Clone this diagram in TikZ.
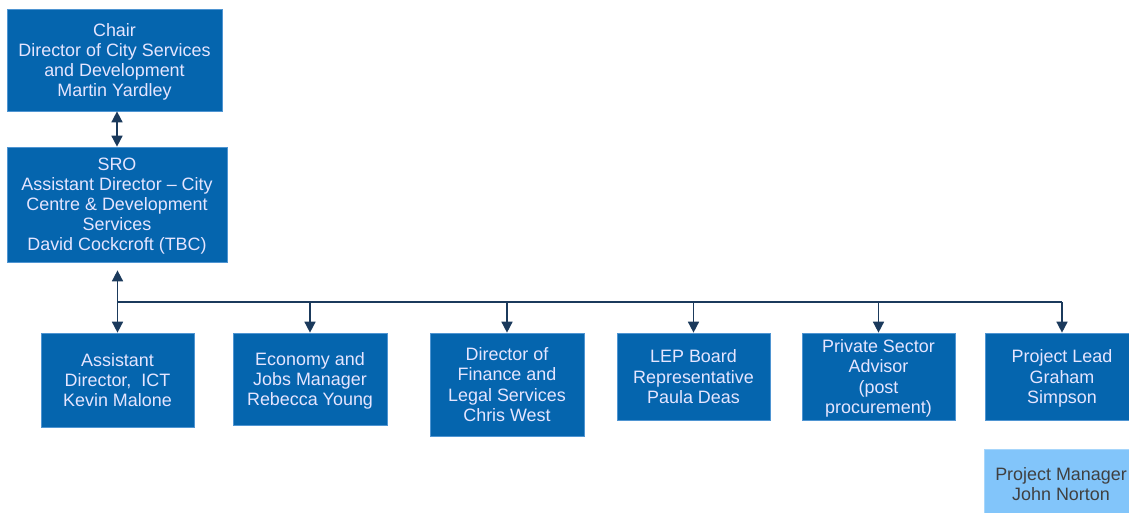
\documentclass[tikz,border=0pt]{standalone}
\usepackage{fontspec}
\setmainfont{Liberation Sans}
\usetikzlibrary{arrows.meta,positioning,calc}
\definecolor{boxblue}{HTML}{0565AE}
\definecolor{lightbox}{HTML}{82C5FA}
\definecolor{linknavy}{HTML}{1B3A5C}
\definecolor{boxedge}{HTML}{4F95D2}
\tikzset{
  role/.style   ={draw=boxedge,fill=boxblue,text=white!90!blue,align=center,inner sep=0pt,
                  text depth=0pt,font=\fontsize{10.2}{11.4}\selectfont},
  sub/.style    ={role,fill=lightbox,draw=lightbox!70!white,text=black!75},
  link/.style   ={-{Triangle[length=2.2mm,width=2.2mm]},line width=0.9pt,draw=linknavy},
  both/.style   ={link,{Triangle[length=2.2mm,width=2.2mm]}-{Triangle[length=2.2mm,width=2.2mm]}},
  bus/.style    ={line width=1.2pt,draw=linknavy},
}
\begin{document}
\begin{tikzpicture}[x=0.02cm,y=-0.02cm]
  \useasboundingbox (0,0) rectangle (1129,512);
  % board chair and SRO
  \node[role,minimum width=4.3cm,minimum height=2.04cm] (chair) at (114.5,60)
    {Chair\\Director of City Services\\and Development\\Martin Yardley};
  \node[role,minimum width=4.4cm,minimum height=2.3cm] (sro) at (117,204.5)
    {SRO\\Assistant Director -- City\\Centre \& Development\\Services\\David Cockcroft (TBC)};
  \draw[both] (chair.south -| sro.north) -- (sro.north);
  % board members
  \node[role,minimum width=3.06cm,minimum height=1.88cm] (ict) at (117.5,380)
    {Assistant\\Director,\ \ ICT\\Kevin Malone};
  \node[role,minimum width=3.08cm,minimum height=1.84cm] (econ) at (310,379)
    {Economy and\\Jobs Manager\\Rebecca Young};
  \node[role,minimum width=3.08cm,minimum height=2.06cm] (fin) at (507,384.5)
    {Director of\\Finance and\\Legal Services\\Chris West};
  \node[role,minimum width=3.06cm,minimum height=1.74cm] (lep) at (693.5,376.5)
    {LEP Board\\Representative\\Paula Deas};
  \node[role,minimum width=3.06cm,minimum height=1.74cm] (psa) at (878.5,376.5)
    {Private Sector\\Advisor\\(post\\procurement)};
  \node[role,minimum width=3.08cm,minimum height=1.74cm] (lead) at (1062,376.5)
    {Project Lead\\Graham\\Simpson};
  % project manager (no link)
  \node[sub,minimum width=3.08cm,minimum height=1.4cm] (pm) at (1061,484)
    {Project Manager\\John Norton};
  % bus from SRO
  \coordinate (hub) at (118,302);
  \draw[both,shorten <=1.6mm] (sro.south -| ict.north) -- (ict.north);
  \draw[bus] (hub) -- (hub -| lead.north);
  \foreach \n in {econ,fin,lep,psa,lead}
    \draw[link] (\n.north |- hub) -- (\n.north);
\end{tikzpicture}
\end{document}
